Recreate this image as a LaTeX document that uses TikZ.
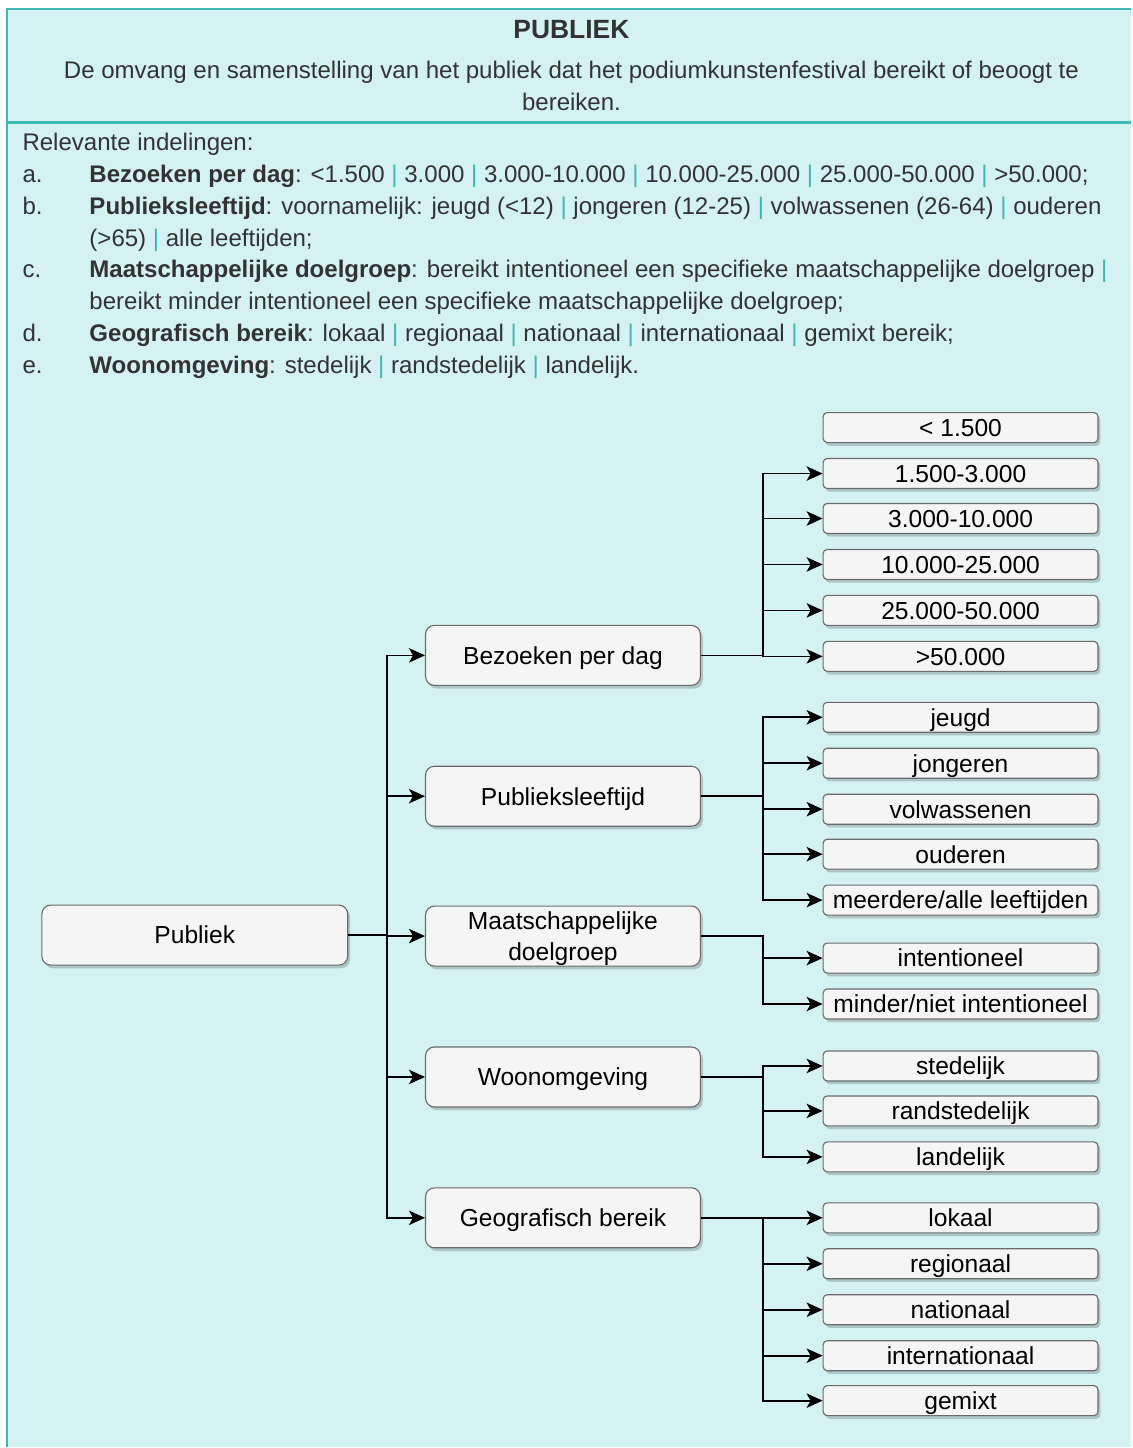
\documentclass[tikz,border=0pt]{standalone}
\usepackage{fontspec}
\setmainfont{Liberation Sans}
\usetikzlibrary{arrows.meta,shadows}

\definecolor{bgcyan}{HTML}{D3F2F1}
\definecolor{tealline}{HTML}{3BB9B3}
\definecolor{boxfill}{HTML}{F5F5F5}
\definecolor{boxdraw}{HTML}{6B6B6B}
\definecolor{txtgray}{HTML}{333333}

\newcommand{\sep}{ \textcolor{tealline}{|} }

\begin{document}
\begin{tikzpicture}[x=0.025cm, y=-0.025cm, thick,
	root node/.style={draw=boxdraw, fill=boxfill, rounded corners=0.22cm, line width=0.8pt,
		minimum width=7.65cm, minimum height=1.5cm, inner sep=0pt, font=\fontsize{17.5}{22}\selectfont,
		text height=15.6pt, text depth=3pt,
		drop shadow={shadow xshift=0.06cm, shadow yshift=-0.08cm, opacity=0.18, fill=black}},
	group node/.style={root node, minimum width=6.875cm, align=center},
	leaf node/.style={root node, rounded corners=0.1cm, minimum width=6.875cm, minimum height=0.75cm},
	list text/.style={anchor=base west, inner sep=0pt, text=txtgray, font=\fontsize{17.1}{22.7}\selectfont},
	arrow/.style={draw=black, line width=1.2pt, -{Stealth[length=0.4cm, width=0.36cm, inset=0.1cm]}}]

	% canvas and frame
	\fill[white] (0,0) rectangle (1132,1448);
	\fill[bgcyan] (7,9) rectangle (1132,1448);
	\draw[tealline, line width=2pt] (7,1448) -- (7,9) -- (1132,9);
	\draw[tealline, line width=2pt] (7,123) -- (1132,123);

	% header
	\node[anchor=base, inner sep=0pt, text=txtgray, font=\fontsize{18.8}{22}\selectfont\bfseries] (title) at (572,39) {PUBLIEK};
	\node[anchor=base, inner sep=0pt, text=txtgray, font=\fontsize{17.1}{22.7}\selectfont] (desc) at (572,79)
		{De omvang en samenstelling van het publiek dat het podiumkunstenfestival bereikt of beoogt te};
	\node[anchor=base, inner sep=0pt, text=txtgray, font=\fontsize{17.1}{22.7}\selectfont] (desc2) at (572,111) {bereiken.};

	% list of categories
	\node[list text] (intro) at (22,151) {Relevante indelingen:};
	\node[list text] (la) at (22,183) {a.};
	\node[list text] (ta) at (89,183) {\textbf{Bezoeken per dag}: <1.500\sep3.000\sep3.000-10.000\sep10.000-25.000\sep25.000-50.000\sep>50.000;};
	\node[list text] (lb) at (22,215) {b.};
	\node[list text] (tb) at (89,215) {\textbf{Publieksleeftijd}: voornamelijk: jeugd (<12)\sep jongeren (12-25)\sep volwassenen (26-64)\sep ouderen};
	\node[list text] (tb2) at (89,247) {(>65)\sep alle leeftijden;};
	\node[list text] (lc) at (22,278) {c.};
	\node[list text] (tc) at (89,278) {\textbf{Maatschappelijke doelgroep}: bereikt intentioneel een specifieke maatschappelijke doelgroep \textcolor{tealline}{|}};
	\node[list text] (tc2) at (89,310) {bereikt minder intentioneel een specifieke maatschappelijke doelgroep;};
	\node[list text] (ld) at (22,342) {d.};
	\node[list text] (td) at (89,342) {\textbf{Geografisch bereik}: lokaal\sep regionaal\sep nationaal\sep internationaal\sep gemixt bereik;};
	\node[list text] (le) at (22,374) {e.};
	\node[list text] (te) at (89,374) {\textbf{Woonomgeving}: stedelijk\sep randstedelijk\sep landelijk.};

	% tree
	\node[root node] (publiek) at (195,936) {Publiek};

	\node[group node] (bpd) at (563.5,656) {Bezoeken per dag};
	\node[group node] (pl) at (563.5,797) {Publieksleeftijd};
	\node[group node, text height=, text depth=] (md) at (563.5,937) {\rule{0pt}{16pt}Maatschappelijke\\doelgroep};
	\node[group node] (wo) at (563.5,1078) {Woonomgeving};
	\node[group node] (gb) at (563.5,1219) {Geografisch bereik};

	\node[leaf node] (b1) at (961.5,428) {< 1.500};
	\node[leaf node] (b2) at (961.5,474) {1.500-3.000};
	\node[leaf node] (b3) at (961.5,519) {3.000-10.000};
	\node[leaf node] (b4) at (961.5,565) {10.000-25.000};
	\node[leaf node] (b5) at (961.5,611) {25.000-50.000};
	\node[leaf node] (b6) at (961.5,657) {>50.000};

	\node[leaf node] (p1) at (961.5,718) {jeugd};
	\node[leaf node] (p2) at (961.5,764) {jongeren};
	\node[leaf node] (p3) at (961.5,810) {volwassenen};
	\node[leaf node] (p4) at (961.5,855) {ouderen};
	\node[leaf node] (p5) at (961.5,901) {meerdere/alle leeftijden};

	\node[leaf node] (m1) at (961.5,959) {intentioneel};
	\node[leaf node] (m2) at (961.5,1005) {minder/niet intentioneel};

	\node[leaf node] (w1) at (961.5,1067) {stedelijk};
	\node[leaf node] (w2) at (961.5,1112) {randstedelijk};
	\node[leaf node] (w3) at (961.5,1158) {landelijk};

	\node[leaf node] (g1) at (961.5,1219) {lokaal};
	\node[leaf node] (g2) at (961.5,1265) {regionaal};
	\node[leaf node] (g3) at (961.5,1311) {nationaal};
	\node[leaf node] (g4) at (961.5,1357) {internationaal};
	\node[leaf node] (g5) at (961.5,1402) {gemixt};

	% connectors
	\draw[arrow] (publiek.east) -- ++(39,0) |- (bpd.west);
	\draw[arrow] (publiek.east) -- ++(39,0) |- (pl.west);
	\draw[arrow] (publiek.east) -- ++(39,0) |- (md.west);
	\draw[arrow] (publiek.east) -- ++(39,0) |- (wo.west);
	\draw[arrow] (publiek.east) -- ++(39,0) |- (gb.west);

	\draw[arrow] (bpd.east) -- ++(62,0) |- (b2.west);
	\draw[arrow] (bpd.east) -- ++(62,0) |- (b3.west);
	\draw[arrow] (bpd.east) -- ++(62,0) |- (b4.west);
	\draw[arrow] (bpd.east) -- ++(62,0) |- (b5.west);
	\draw[arrow] (bpd.east) -- ++(62,0) |- (b6.west);

	\draw[arrow] (pl.east) -- ++(62,0) |- (p1.west);
	\draw[arrow] (pl.east) -- ++(62,0) |- (p2.west);
	\draw[arrow] (pl.east) -- ++(62,0) |- (p3.west);
	\draw[arrow] (pl.east) -- ++(62,0) |- (p4.west);
	\draw[arrow] (pl.east) -- ++(62,0) |- (p5.west);

	\draw[arrow] (md.east) -- ++(62,0) |- (m1.west);
	\draw[arrow] (md.east) -- ++(62,0) |- (m2.west);

	\draw[arrow] (wo.east) -- ++(62,0) |- (w1.west);
	\draw[arrow] (wo.east) -- ++(62,0) |- (w2.west);
	\draw[arrow] (wo.east) -- ++(62,0) |- (w3.west);

	\draw[arrow] (gb.east) -- ++(62,0) |- (g1.west);
	\draw[arrow] (gb.east) -- ++(62,0) |- (g2.west);
	\draw[arrow] (gb.east) -- ++(62,0) |- (g3.west);
	\draw[arrow] (gb.east) -- ++(62,0) |- (g4.west);
	\draw[arrow] (gb.east) -- ++(62,0) |- (g5.west);

	\useasboundingbox (0,0) rectangle (1132,1448);
\end{tikzpicture}
\end{document}
